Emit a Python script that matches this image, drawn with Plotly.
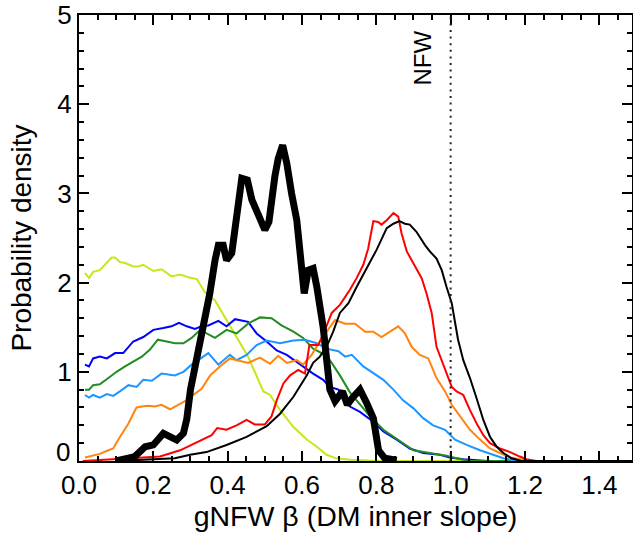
import plotly.graph_objects as go

# ---- data ----
yellow_x = [0.016, 0.027, 0.038, 0.056, 0.088, 0.097, 0.11, 0.124, 0.146, 0.16, 0.173, 0.2, 0.222, 0.249, 0.272, 0.294, 0.317, 0.339, 0.366, 0.397, 0.424, 0.455, 0.496, 0.514, 0.541, 0.577, 0.613, 0.64, 0.666, 0.693, 0.73, 0.78, 0.85, 1.5]
yellow_y = [2.11, 2.05, 2.12, 2.14, 2.28, 2.28, 2.23, 2.22, 2.18, 2.18, 2.2, 2.13, 2.15, 2.07, 2.09, 2.06, 2.04, 1.89, 1.8, 1.58, 1.39, 1.17, 0.78, 0.74, 0.57, 0.38, 0.24, 0.16, 0.07, 0.03, 0.015, 0.005, 0.0, 0.0]

blue_x = [0.016, 0.027, 0.038, 0.056, 0.075, 0.097, 0.119, 0.146, 0.173, 0.2, 0.227, 0.249, 0.269, 0.29, 0.312, 0.33, 0.348, 0.375, 0.397, 0.42, 0.455, 0.478, 0.505, 0.532, 0.559, 0.595, 0.63, 0.657, 0.675, 0.698, 0.729, 0.756, 0.774, 0.792, 0.819, 0.855, 0.89, 0.926, 0.971, 0.998, 1.034, 1.07, 1.1, 1.5]
blue_y = [1.08, 1.06, 1.15, 1.17, 1.15, 1.21, 1.21, 1.34, 1.39, 1.47, 1.49, 1.51, 1.55, 1.51, 1.48, 1.51, 1.52, 1.57, 1.51, 1.59, 1.56, 1.43, 1.34, 1.24, 1.19, 1.08, 0.98, 0.91, 0.83, 0.8, 0.61, 0.55, 0.5, 0.44, 0.33, 0.24, 0.14, 0.09, 0.07, 0.04, 0.02, 0.01, 0.0, 0.0]

green_x = [0.016, 0.027, 0.038, 0.056, 0.079, 0.101, 0.124, 0.146, 0.169, 0.191, 0.212, 0.236, 0.258, 0.281, 0.303, 0.326, 0.366, 0.397, 0.424, 0.455, 0.487, 0.518, 0.545, 0.577, 0.603, 0.63, 0.653, 0.675, 0.702, 0.729, 0.756, 0.783, 0.819, 0.855, 0.9, 0.944, 0.989, 1.016, 1.05, 1.5]
green_y = [0.8, 0.8, 0.85, 0.86, 0.93, 1.0, 1.06, 1.11, 1.17, 1.25, 1.36, 1.34, 1.32, 1.32, 1.38, 1.47, 1.38, 1.47, 1.43, 1.54, 1.61, 1.6, 1.52, 1.45, 1.38, 1.26, 1.21, 1.13, 0.96, 0.77, 0.63, 0.5, 0.35, 0.25, 0.12, 0.09, 0.06, 0.03, 0.0, 0.0]

lblue_x = [0.016, 0.027, 0.038, 0.056, 0.075, 0.092, 0.11, 0.133, 0.155, 0.173, 0.196, 0.222, 0.258, 0.281, 0.303, 0.326, 0.348, 0.375, 0.406, 0.424, 0.451, 0.478, 0.505, 0.541, 0.577, 0.608, 0.64, 0.666, 0.698, 0.716, 0.734, 0.765, 0.792, 0.819, 0.846, 0.872, 0.9, 0.926, 0.953, 0.985, 1.012, 1.043, 1.079, 1.115, 1.142, 1.18, 1.5]
lblue_y = [0.74, 0.71, 0.74, 0.71, 0.75, 0.73, 0.78, 0.85, 0.83, 0.91, 0.9, 0.98, 0.96, 1.0, 1.08, 1.15, 1.21, 1.08, 1.19, 1.13, 1.19, 1.3, 1.35, 1.32, 1.35, 1.36, 1.32, 1.26, 1.23, 1.17, 1.19, 1.06, 0.98, 0.91, 0.8, 0.68, 0.59, 0.48, 0.4, 0.35, 0.24, 0.18, 0.12, 0.07, 0.03, 0.0, 0.0]

orange_x = [0.016, 0.038, 0.056, 0.079, 0.092, 0.106, 0.119, 0.133, 0.146, 0.155, 0.169, 0.186, 0.204, 0.222, 0.245, 0.263, 0.285, 0.307, 0.33, 0.353, 0.379, 0.406, 0.428, 0.455, 0.487, 0.514, 0.536, 0.559, 0.586, 0.603, 0.626, 0.648, 0.675, 0.689, 0.716, 0.743, 0.77, 0.792, 0.814, 0.837, 0.859, 0.877, 0.895, 0.917, 0.94, 0.962, 0.985, 1.003, 1.025, 1.052, 1.079, 1.106, 1.133, 1.16, 1.186, 1.21, 1.5]
orange_y = [0.04, 0.06, 0.08, 0.12, 0.14, 0.24, 0.33, 0.42, 0.53, 0.6, 0.61, 0.62, 0.61, 0.63, 0.58, 0.62, 0.67, 0.74, 0.81, 0.96, 1.06, 1.15, 1.13, 1.1, 1.16, 1.09, 1.18, 1.1, 1.13, 1.08, 1.19, 1.34, 1.5, 1.58, 1.54, 1.54, 1.45, 1.45, 1.39, 1.45, 1.51, 1.43, 1.28, 1.19, 1.15, 0.93, 0.78, 0.63, 0.5, 0.35, 0.24, 0.14, 0.09, 0.04, 0.02, 0.0, 0.0]

red_x = [0.01, 0.146, 0.218, 0.272, 0.303, 0.334, 0.357, 0.372, 0.397, 0.424, 0.451, 0.473, 0.5, 0.518, 0.532, 0.55, 0.568, 0.59, 0.608, 0.62, 0.644, 0.662, 0.68, 0.702, 0.729, 0.747, 0.765, 0.778, 0.792, 0.805, 0.814, 0.828, 0.846, 0.859, 0.868, 0.882, 0.904, 0.922, 0.935, 0.949, 0.962, 0.985, 1.003, 1.016, 1.034, 1.052, 1.07, 1.088, 1.106, 1.133, 1.16, 1.186, 1.204, 1.23, 1.5]
red_y = [0.0, 0.03, 0.05, 0.12, 0.18, 0.24, 0.29, 0.37, 0.35, 0.4, 0.46, 0.41, 0.41, 0.5, 0.68, 0.87, 0.96, 1.02, 0.98, 1.3, 1.3, 1.47, 1.66, 1.75, 1.92, 2.05, 2.2, 2.38, 2.69, 2.68, 2.65, 2.7, 2.78, 2.74, 2.55, 2.35, 2.18, 2.05, 1.88, 1.66, 1.28, 1.02, 0.83, 0.78, 0.74, 0.57, 0.42, 0.29, 0.2, 0.14, 0.1, 0.05, 0.02, 0.0, 0.0]

kthin_x = [0.1, 0.164, 0.258, 0.299, 0.343, 0.397, 0.451, 0.505, 0.541, 0.577, 0.613, 0.63, 0.648, 0.666, 0.684, 0.702, 0.725, 0.747, 0.774, 0.801, 0.828, 0.846, 0.862, 0.877, 0.89, 0.908, 0.931, 0.944, 0.962, 0.976, 0.989, 1.003, 1.012, 1.02, 1.034, 1.052, 1.07, 1.088, 1.106, 1.124, 1.142, 1.164, 1.19, 1.5]
kthin_y = [0.0, 0.01, 0.03, 0.07, 0.1, 0.18, 0.27, 0.39, 0.53, 0.72, 0.96, 1.1, 1.17, 1.28, 1.45, 1.66, 1.77, 1.95, 2.16, 2.37, 2.61, 2.66, 2.69, 2.66, 2.65, 2.57, 2.42, 2.35, 2.27, 2.14, 1.95, 1.77, 1.55, 1.36, 1.13, 0.93, 0.7, 0.46, 0.27, 0.16, 0.09, 0.03, 0.0, 0.0]

kthick_x = [0.1, 0.13, 0.15, 0.178, 0.2, 0.227, 0.24, 0.263, 0.281, 0.29, 0.3, 0.317, 0.334, 0.352, 0.366, 0.375, 0.388, 0.397, 0.411, 0.42, 0.438, 0.453, 0.465, 0.5, 0.511, 0.527, 0.536, 0.548, 0.559, 0.572, 0.586, 0.595, 0.606, 0.617, 0.63, 0.64, 0.657, 0.675, 0.689, 0.709, 0.722, 0.736, 0.756, 0.774, 0.792, 0.806, 0.823, 0.855]
kthick_y = [0.0, 0.02, 0.05, 0.16, 0.18, 0.31, 0.29, 0.235, 0.31, 0.47, 0.8, 1.13, 1.5, 1.88, 2.25, 2.42, 2.42, 2.25, 2.33, 2.59, 3.17, 3.15, 2.93, 2.59, 2.68, 3.19, 3.39, 3.54, 3.34, 3.0, 2.7, 2.33, 1.88, 2.14, 2.16, 1.95, 1.5, 0.8, 0.67, 0.78, 0.63, 0.71, 0.8, 0.65, 0.48, 0.12, 0.03, 0.01]

nfw_beta = 1.0
x_ticks = [0.0, 0.2, 0.4, 0.6, 0.8, 1.0, 1.2, 1.4]
y_ticks = [0, 1, 2, 3, 4, 5]

FONT = "Liberation Sans, Arial, sans-serif"

fig = go.Figure()
series = [
    (yellow_x, yellow_y, "#c8e61a", 2),
    (blue_x, blue_y, "#0000ff", 2),
    (green_x, green_y, "#228b22", 2),
    (lblue_x, lblue_y, "#1e96ff", 2),
    (orange_x, orange_y, "#ff8410", 2),
    (red_x, red_y, "#ff0000", 2),
    (kthin_x, kthin_y, "#000000", 2),
    (kthick_x, kthick_y, "#000000", 7),
]
for xs, ys, col, w in series:
    fig.add_trace(go.Scatter(x=xs, y=ys, mode="lines",
                             line=dict(color=col, width=w),
                             showlegend=False, hoverinfo="skip"))

fig.add_shape(type="line", xref="x", yref="y", x0=nfw_beta, x1=nfw_beta, y0=0, y1=5,
              line=dict(color="#222222", width=2, dash="2px,4.6px"))
fig.add_annotation(x=nfw_beta, y=4.52, xref="x", yref="y", text="NFW", textangle=-90,
                   showarrow=False, xshift=-28, font=dict(family=FONT, size=24, color="black"))

# the "0" label of the y axis sits slightly above its tick, as in the reference
fig.add_annotation(x=0, y=y_ticks[0], xref="paper", yref="y", text=str(y_ticks[0]),
                   showarrow=False, xanchor="right", yanchor="middle", xshift=-7, yshift=9,
                   font=dict(family=FONT, size=26, color="black"))

axis_common = dict(showline=True, linewidth=2, linecolor="black", mirror="ticks",
                   ticks="inside", ticklen=10, tickwidth=2, tickcolor="black",
                   showgrid=False, zeroline=False,
                   tickfont=dict(family=FONT, size=26, color="black"))

fig.update_xaxes(range=[0, 1.488], tickvals=x_ticks, ticktext=[f"{v:.1f}" for v in x_ticks],
                 minor=dict(dtick=0.05, tick0=0, ticks="inside", ticklen=5, tickwidth=2, tickcolor="black"),
                 title=dict(text="gNFW β (DM inner slope)", font=dict(family=FONT, size=28.5, color="black"), standoff=4),
                 **axis_common)
fig.update_yaxes(range=[0, 5], tickvals=y_ticks, ticktext=[""] + [str(v) for v in y_ticks[1:]],
                 minor=dict(dtick=0.2, tick0=0, ticks="inside", ticklen=5, tickwidth=2, tickcolor="black"),
                 title=dict(text="Probability density", font=dict(family=FONT, size=28, color="black"), standoff=18),
                 **axis_common)

fig.update_layout(width=633, height=534, margin=dict(l=79, r=1, t=15, b=73, autoexpand=False),
                  paper_bgcolor="white", plot_bgcolor="white")

fig.write_html("out.html")
